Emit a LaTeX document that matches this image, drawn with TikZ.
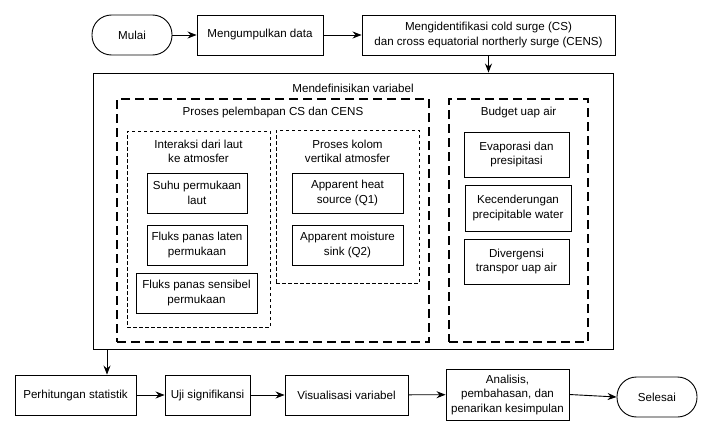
\documentclass[tikz,border=0pt]{standalone}
\usepackage{fontspec}
\setmainfont{Liberation Sans}
\usetikzlibrary{arrows.meta}
\begin{document}
\begin{tikzpicture}[x=1pt,y=-1pt,
  every node/.style={font=\fontsize{11.6}{14.5}\selectfont, align=center, inner sep=0pt},
  box/.style={draw, line width=0.9pt, minimum width=#1, minimum height=40pt},
  term/.style={draw, line width=0.9pt, rounded corners=19.5pt, minimum width=80pt, minimum height=40pt},
  thickdash/.style={draw, line width=2pt, dash pattern=on 9pt off 5pt},
  thindash/.style={draw, line width=0.8pt, dash pattern=on 3.5pt off 2.5pt},
  arr/.style={line width=0.9pt, -{Stealth[length=9pt,width=7pt,inset=3pt]}}
]
\useasboundingbox (0,0) rectangle (713,439);
% top row
\node[term] (mulai) at (132,35) {Mulai};
\node[box=126pt] (kumpul) at (260,35) {Mengumpulkan data};
\node[box=253pt] (ident) at (488.5,35) {Mengidentifikasi cold surge (CS)\\ dan cross equatorial northerly surge (CENS)};
% containers
\node[draw, line width=0.9pt, minimum width=520pt, minimum height=276pt] (def) at (353,211) {};
\node (deft) at (353,88) {Mendefinisikan variabel};
\node[thickdash, minimum width=312pt, minimum height=243pt] (lemb) at (273,220.5) {};
\node (lembt) at (273,113) {Proses pelembapan CS dan CENS};
\node[thickdash, minimum width=139pt, minimum height=243pt] (budget) at (518.5,220.5) {};
\node (budgett) at (518.5,113) {Budget uap air};
\node[thindash, minimum width=143pt, minimum height=196pt] (inter) at (198.5,229) {};
\node (intert) at (198.5,151.5) {Interaksi dari laut\\ke atmosfer};
\node[thindash, minimum width=143pt, minimum height=153pt] (kolom) at (347.5,206.5) {};
\node (kolomt) at (347.5,151.5) {Proses kolom\\vertikal atmosfer};
% inner boxes
\node[box=100pt] (suhu) at (197,193) {Suhu permukaan\\laut};
\node[box=100pt] (laten) at (197,245) {Fluks panas laten\\permukaan};
\node[box=121pt] (sens) at (196.5,293) {Fluks panas sensibel\\permukaan};
\node[box=111pt] (heat) at (347.5,193) {Apparent heat\\source (Q1)};
\node[box=111pt] (moist) at (347.5,245) {Apparent moisture\\sink (Q2)};
\node[box=105pt, minimum height=45pt] (evap) at (516.5,154.5) {Evaporasi dan\\presipitasi};
\node[box=106pt, minimum height=46pt] (pw) at (518,208) {Kecenderungan\\precipitable water};
\node[box=105pt, minimum height=45pt] (div) at (516.5,261.5) {Divergensi\\transpor uap air};
% bottom row
\node[box=121pt] (stat) at (75.5,395) {Perhitungan statistik};
\node[box=85pt] (uji) at (207.5,395) {Uji signifikansi};
\node[box=123pt] (vis) at (346.5,395) {Visualisasi variabel};
\node[box=123pt, minimum height=51pt] (anal) at (507.5,394.5) {Analisis,\\pembahasan, dan\\penarikan kesimpulan};
\node[term] (selesai) at (657,397) {Selesai};
% connectors
\draw[arr] (mulai) -- (kumpul);
\draw[arr] (kumpul) -- (ident);
\draw[arr] (ident.south) -- (ident.south |- def.north);
\coordinate (defout) at (107,0);
\draw[arr] (defout |- def.south) -- (defout |- stat.north);
\draw[arr] (stat) -- (uji);
\draw[arr] (uji.east) -- (vis.west);
\draw[arr] (vis) -- (anal);
\draw[arr] (anal.east) -- (selesai.west);
\end{tikzpicture}
\end{document}
